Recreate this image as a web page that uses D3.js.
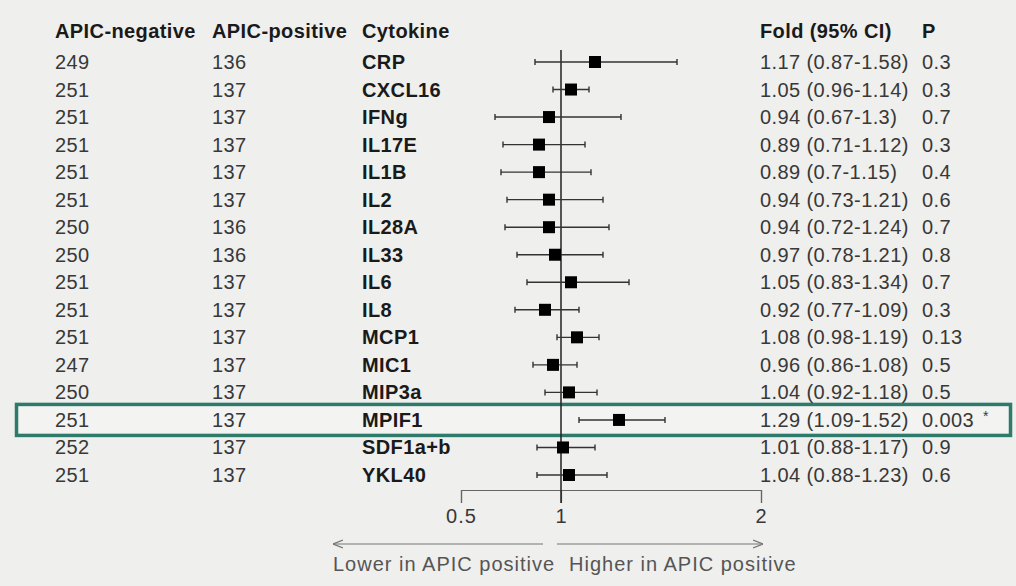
<!DOCTYPE html>
<html>
<head>
<meta charset="utf-8">
<script src="https://cdn.jsdelivr.net/npm/d3@7"></script>
<style>
  body { margin: 0; background: #efefed; }
  svg { display: block; font-family: "Liberation Sans", Arial, sans-serif; }
</style>
</head>
<body>
<svg id="drawing_region"></svg>
<script>
// data
const cytokines = ["CRP", "CXCL16", "IFNg", "IL17E", "IL1B", "IL2", "IL28A", "IL33",
    "IL6", "IL8", "MCP1", "MIC1", "MIP3a", "MPIF1", "SDF1a+b", "YKL40"];
const negN = [249, 251, 251, 251, 251, 251, 250, 250, 251, 251, 251, 247, 250, 251, 252, 251];
const posN = [136, 137, 137, 137, 137, 137, 136, 136, 137, 137, 137, 137, 137, 137, 137, 137];
const fold = [1.17, 1.05, 0.94, 0.89, 0.89, 0.94, 0.94, 0.97, 1.05, 0.92, 1.08, 0.96, 1.04, 1.29, 1.01, 1.04];
const ciLow = [0.87, 0.96, 0.67, 0.71, 0.7, 0.73, 0.72, 0.78, 0.83, 0.77, 0.98, 0.86, 0.92, 1.09, 0.88, 0.88];
const ciHigh = [1.58, 1.14, 1.3, 1.12, 1.15, 1.21, 1.24, 1.21, 1.34, 1.09, 1.19, 1.08, 1.18, 1.52, 1.17, 1.23];
const pvals = ["0.3", "0.3", "0.7", "0.3", "0.4", "0.6", "0.7", "0.8", "0.7", "0.3", "0.13", "0.5", "0.5", "0.003", "0.9", "0.6"];
const highlight = "MPIF1";
const xTicks = [0.5, 1, 2];

const data = cytokines.map((c, i) => ({
    name: c, neg: negN[i], pos: posN[i], fold: fold[i],
    lo: ciLow[i], hi: ciHigh[i], p: pvals[i]
}));

const width = 1016, height = 586;
const col = { neg: 55, pos: 212, name: 362, fold: 760, p: 922, star: 985 };

const svg = d3.select('#drawing_region')
    .attr('width', width)
    .attr('height', height);

const xscale = d3.scaleLinear()
    .domain([0.5, 2])
    .range([461, 761]);

const yscale = d3.scalePoint()
    .domain(cytokines)
    .range([62, 475]);

const fontSize = 20;
const spacing = '0.4px';
const textColor = '#383838';

// highlight box
const hy = yscale(highlight);
svg.append('rect')
    .attr('x', 16.5)
    .attr('y', hy - 15.5)
    .attr('width', 994)
    .attr('height', 31)
    .attr('fill', '#f3f3f1')
    .attr('stroke', '#2e7b6b')
    .attr('stroke-width', 3.5);

// headers
const headers = [
    { x: col.neg, t: 'APIC-negative' },
    { x: col.pos, t: 'APIC-positive' },
    { x: col.name, t: 'Cytokine' },
    { x: col.fold, t: 'Fold (95% CI)' },
    { x: col.p, t: 'P' }
];
svg.append('g').selectAll('text')
    .data(headers)
    .join('text')
    .attr('x', d => d.x)
    .attr('y', 31)
    .attr('dy', '0.35em')
    .style('font-size', fontSize + 'px')
    .style('letter-spacing', spacing)
    .style('font-weight', 'bold')
    .attr('fill', '#1a1a1a')
    .text(d => d.t);

// table rows
const rows = svg.append('g').selectAll('g')
    .data(data)
    .join('g')
    .attr('transform', d => `translate(0, ${yscale(d.name)})`);

const addCell = (x, fn, bold) => rows.append('text')
    .attr('x', x)
    .attr('dy', '0.35em')
    .style('font-size', fontSize + 'px')
    .style('letter-spacing', spacing)
    .style('font-weight', bold ? 'bold' : 'normal')
    .attr('fill', bold ? '#1a1a1a' : textColor)
    .text(fn);

addCell(col.neg, d => d.neg);
addCell(col.pos, d => d.pos);
addCell(col.name, d => d.name, true);
addCell(col.fold, d => `${d.fold} (${d.lo}-${d.hi})`);
addCell(col.p, d => d.p);

rows.filter(d => d.name === highlight)
    .append('text')
    .attr('x', col.star - 2)
    .attr('y', -4)
    .attr('dy', '0.35em')
    .style('font-size', '14px')
    .attr('fill', textColor)
    .text('*');

// axis
const xaxis = d3.axisBottom(xscale)
    .tickValues(xTicks)
    .tickFormat(d3.format('~g'))
    .tickSize(13)
    .tickSizeOuter(13)
    .tickPadding(6);

const axisG = svg.append('g')
    .attr('transform', 'translate(0, 490)')
    .call(xaxis);
axisG.selectAll('path, line').attr('stroke', '#666').attr('stroke-width', 1.2);
axisG.selectAll('text')
    .style('font-size', fontSize + 'px')
    .style('letter-spacing', '1px')
    .style('font-family', '"Liberation Sans", Arial, sans-serif')
    .attr('fill', textColor);

// reference line at 1
svg.append('line')
    .attr('x1', xscale(1)).attr('x2', xscale(1))
    .attr('y1', 50).attr('y2', 503)
    .attr('stroke', '#222')
    .attr('stroke-width', 1.5);

// confidence intervals
const ci = svg.append('g');
ci.selectAll('line.ci')
    .data(data)
    .join('line')
    .attr('class', 'ci')
    .attr('x1', d => xscale(d.lo))
    .attr('x2', d => xscale(d.hi))
    .attr('y1', d => yscale(d.name))
    .attr('y2', d => yscale(d.name))
    .attr('stroke', '#333')
    .attr('stroke-width', 1.4);

['lo', 'hi'].forEach(k => {
    ci.selectAll('line.cap-' + k)
        .data(data)
        .join('line')
        .attr('class', 'cap-' + k)
        .attr('x1', d => xscale(d[k]))
        .attr('x2', d => xscale(d[k]))
        .attr('y1', d => yscale(d.name) - 3)
        .attr('y2', d => yscale(d.name) + 3)
        .attr('stroke', '#333')
        .attr('stroke-width', 1.4);
});

const sq = 12;
ci.selectAll('rect')
    .data(data)
    .join('rect')
    .attr('x', d => xscale(d.fold) - sq / 2)
    .attr('y', d => yscale(d.name) - sq / 2)
    .attr('width', sq)
    .attr('height', sq)
    .attr('fill', '#000');

// direction arrows
const defs = svg.append('defs');
defs.append('marker')
    .attr('id', 'arrow')
    .attr('viewBox', '0 0 10 10')
    .attr('refX', 10).attr('refY', 5)
    .attr('markerWidth', 10).attr('markerHeight', 10)
    .attr('markerUnits', 'userSpaceOnUse')
    .attr('orient', 'auto')
    .append('path')
    .attr('d', 'M0,1 L10,5 L0,9')
    .attr('fill', 'none')
    .attr('stroke', '#777')
    .attr('stroke-width', 1.2);

const ay = 544;
const x1 = xscale(1);
svg.append('line')
    .attr('x1', x1 - 18).attr('x2', x1 - 228)
    .attr('y1', ay).attr('y2', ay)
    .attr('stroke', '#777').attr('stroke-width', 1.2)
    .attr('marker-end', 'url(#arrow)');
svg.append('line')
    .attr('x1', x1 - 4).attr('x2', x1 + 202)
    .attr('y1', ay).attr('y2', ay)
    .attr('stroke', '#777').attr('stroke-width', 1.2)
    .attr('marker-end', 'url(#arrow)');

const dirLabels = [
    { x: x1 - 228, t: 'Lower in APIC positive' },
    { x: x1 + 8, t: 'Higher in APIC positive' }
];
svg.append('g').selectAll('text')
    .data(dirLabels)
    .join('text')
    .attr('x', d => d.x)
    .attr('y', 564)
    .attr('dy', '0.35em')
    .style('font-size', fontSize + 'px')
    .style('letter-spacing', '1px')
    .attr('fill', '#555')
    .text(d => d.t);
</script>
</body>
</html>
